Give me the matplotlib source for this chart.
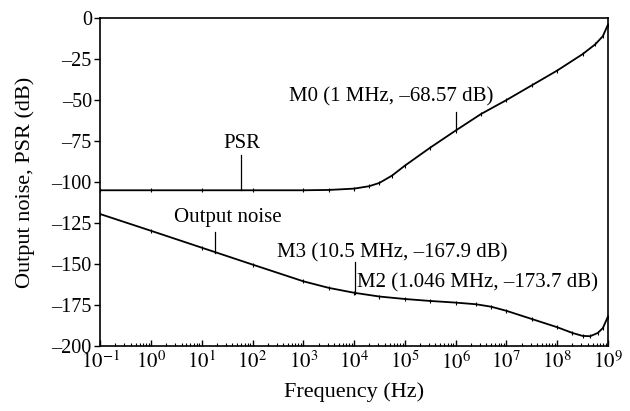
import numpy as np
import matplotlib.pyplot as plt

plt.rcParams['font.family'] = ['Liberation Serif', 'DejaVu Serif']
plt.rcParams['mathtext.fontset'] = 'stix'

# PSR curve (log10 of frequency, dB)
psr_logf = [-1, 0, 1, 2, 3, 3.5, 4, 4.3, 4.5, 4.75, 5, 5.5, 6, 6.5, 7, 7.5, 8, 8.5, 8.75, 8.9, 9]
psr_db = [-105, -105, -105, -105, -105, -104.8, -104, -102.5, -100.5, -96, -90, -79, -68.6,
          -58.5, -50, -41, -32, -22, -16, -11, -4]

# Output noise curve
noise_logf = [-1, 0, 1, 2, 3, 3.5, 4, 4.5, 5, 5.5, 6, 6.4, 6.7, 7, 7.5, 8, 8.3, 8.5, 8.65, 8.8, 8.9, 9]
noise_db = [-119.5, -129.7, -140, -150.3, -160.5, -164.5, -167.5, -169.8, -171.3, -172.5, -173.5,
            -174.5, -176, -178.5, -183.5, -188.5, -192, -193.8, -194, -192, -189, -182]

yticks = [0, -25, -50, -75, -100, -125, -150, -175, -200]
xtick_exp = list(range(-1, 10))

fig = plt.figure(figsize=(6.3, 4.11), dpi=100)
ax = fig.add_axes([0.159, 0.158, 0.806, 0.798])

f_psr = 10.0 ** np.array(psr_logf)
f_noise = 10.0 ** np.array(noise_logf)
ax.plot(f_psr, psr_db, color='black', lw=1.3, marker='|', ms=3.5, mew=0.8)
ax.plot(f_noise, noise_db, color='black', lw=1.3, marker='|', ms=3.5, mew=0.8)

ax.set_xscale('log')
ax.set_xlim(1e-1, 1e9)
ax.set_ylim(-200, 0)
ax.set_yticks(yticks)
ax.set_yticklabels(['0' if v == 0 else '\u2013%d' % -v for v in yticks], fontsize=14.5)
ax.set_xticks([10.0 ** e for e in xtick_exp])
ax.set_xticklabels([r'$10^{%d}$' % e for e in xtick_exp], fontsize=15)
ax.tick_params(axis='y', direction='out', length=4, width=1, pad=2)
ax.tick_params(axis='x', which='major', direction='in', length=4, width=1, pad=4)
ax.tick_params(axis='x', which='minor', direction='in', length=2.5, width=0.8)
ax.tick_params(top=False, right=False)
for s in ax.spines.values():
    s.set_linewidth(1.2)

ax.set_xlabel('Frequency (Hz)', fontsize=16, labelpad=6)
ax.set_ylabel('Output noise, PSR (dB)', fontsize=16, labelpad=12)

# annotations
fs = 15
ax.text(63, -76.2, 'PSR', fontsize=fs, ha='center', va='center')
ax.plot([60, 60], [-83.5, -105], color='black', lw=0.9)

ax.text(5.5e6, -48.2, 'M0 (1 MHz, \u201368.57 dB)', fontsize=fs, ha='right', va='center')
ax.plot([1e6, 1e6], [-57.3, -68.3], color='black', lw=0.9)

ax.text(33, -121.9, 'Output noise', fontsize=fs, ha='center', va='center')
ax.plot([18, 18], [-130.5, -143], color='black', lw=0.9)

ax.text(5.6e4, -143.3, 'M3 (10.5 MHz, \u2013167.9 dB)', fontsize=fs, ha='center', va='center')
ax.plot([1.05e4, 1.05e4], [-148.8, -168.5], color='black', lw=0.9)
ax.text(1.15e4, -161.6, 'M2 (1.046 MHz, \u2013173.7 dB)', fontsize=fs, ha='left', va='center')

fig.savefig('out.png', dpi=100)
